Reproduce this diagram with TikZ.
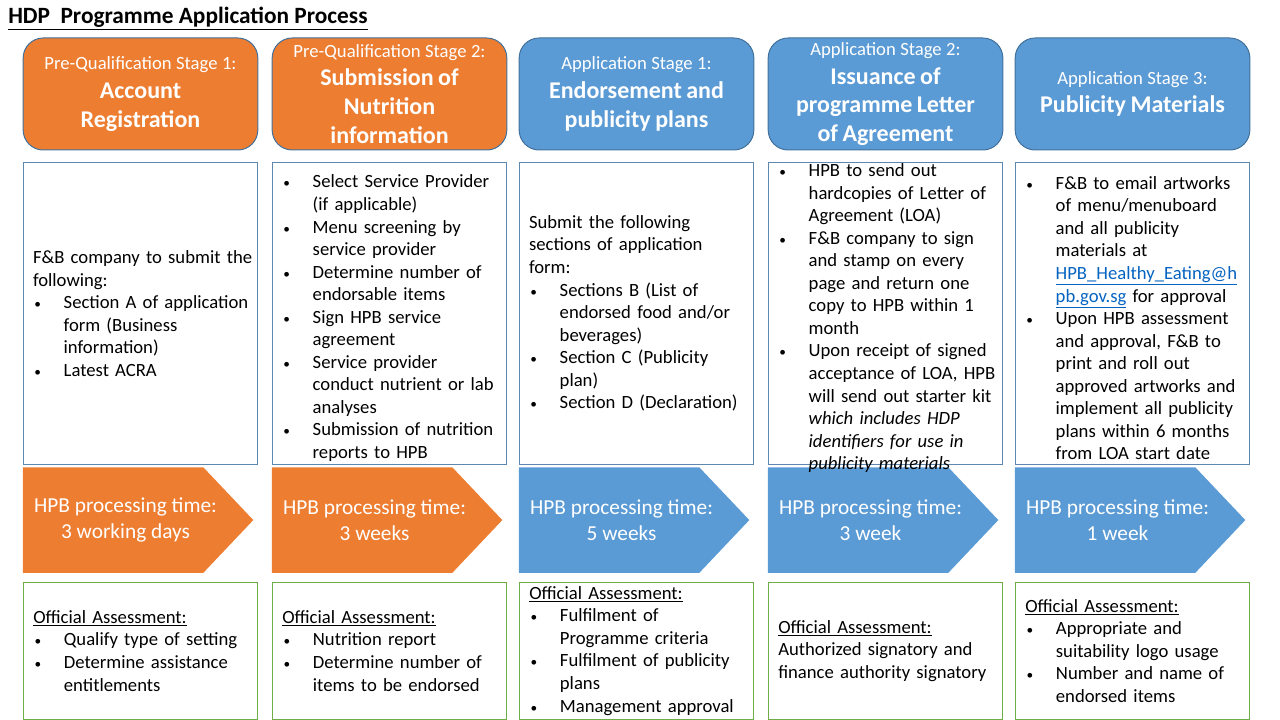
\documentclass[tikz,border=0pt]{standalone}
\usepackage{fontspec}
\setmainfont{Carlito}
\usepackage{enumitem}
\setlist[itemize]{label={\fontsize{10}{10}\selectfont\textbullet}, nosep, leftmargin=23pt, labelwidth=8pt, labelsep=14pt, align=left}
\usepackage{tikz}
\usetikzlibrary{positioning, backgrounds}

\definecolor{hpborange}{HTML}{ED7D31}
\definecolor{hpbblue}{HTML}{5B9BD5}
\definecolor{headline}{HTML}{41719C}
\definecolor{infoline}{HTML}{5E87B0}
\definecolor{hpbgreen}{HTML}{70AD47}
\definecolor{linkblue}{HTML}{0563C1}

\tikzset{
  head/.style={rectangle, rounded corners=15pt, draw=headline, line width=0.75pt,
    minimum width=176pt, minimum height=84pt, text width=170pt, align=center,
    text=white, inner sep=0pt},
  orangehead/.style={head, fill=hpborange},
  bluehead/.style={head, fill=hpbblue},
  infobox/.style={rectangle, draw=infoline, line width=0.6pt,
    minimum width=176pt, minimum height=225.75pt, inner sep=0pt},
  infotext/.style={anchor=west, text width=175pt, align=left, inner sep=0pt,
    font=\fontsize{14}{16.9}\selectfont},
  proc/.style={rectangle, minimum width=153.75pt, minimum height=78.75pt,
    inner sep=0pt, text=white, align=center, font=\fontsize{16}{19.5}\selectfont},
  assess/.style={rectangle, draw=hpbgreen, line width=0.75pt, minimum width=176pt,
    minimum height=102.75pt, inner xsep=7.5pt, inner ysep=0.5pt, text width=161pt,
    align=left, font=\fontsize{14}{16.9}\selectfont}
}

\newcommand{\stagesmall}[1]{{\fontsize{14}{17}\selectfont #1\par}}
\newcommand{\stagebig}[1]{{\fontsize{18}{21.6}\selectfont\bfseries #1\par}}

\begin{document}
\begin{tikzpicture}[x=0.75pt, y=-0.75pt]
  \useasboundingbox (0,0) rectangle (1280,720);

  % --- Title ---
  \node[anchor=north west, inner sep=0pt, font=\fontsize{17.5}{21}\selectfont\bfseries]
    (title) at (8,7) {\underline{HDP\hspace{0.45em}Programme Application Process}};

  % --- Stage headers ---
  \node[orangehead] (head1) at (140.5,94)
    {\stagesmall{Pre-Qualification Stage 1:}\stagebig{Account\\Registration}};
  \node[orangehead] (head2) at (389.5,94)
    {\stagesmall{Pre-Qualification Stage 2:}\stagebig{Submission of\\Nutrition\\information}};
  \node[bluehead] (head3) at (636.5,94)
    {\stagesmall{Application Stage 1:}\stagebig{Endorsement and\\publicity plans}};
  \node[bluehead] (head4) at (885.5,94)
    {\stagesmall{Application Stage 2:}\stagebig{Issuance of\\programme Letter\\of Agreement}};
  \node[bluehead] (head5) at (1132.5,94)
    {\stagesmall{Application Stage 3:}\stagebig{Publicity Materials}};

  % --- What the F&B company does (boxes + text) ---
  \node[infobox, below=9pt of head1] (info1) {};
  \node[infobox, below=9pt of head2] (info2) {};
  \node[infobox, below=9pt of head3] (info3) {};
  \node[infobox, below=9pt of head4] (info4) {};
  \node[infobox, below=9pt of head5] (info5) {};

  \node[infotext] (txt1) at ([xshift=7.5pt]info1.west) {F\&B company to submit the\\following:
    \begin{itemize}
      \item Section A of application\\form (Business\\information)
      \item Latest ACRA
    \end{itemize}};
  \node[infotext] (txt2) at ([xshift=7.5pt]info2.west) {%
    \begin{itemize}
      \item Select Service Provider\\(if applicable)
      \item Menu screening by\\service provider
      \item Determine number of\\endorsable items
      \item Sign HPB service\\agreement
      \item Service provider\\conduct nutrient or lab\\analyses
      \item Submission of nutrition\\reports to HPB
    \end{itemize}};
  \node[infotext] (txt3) at ([xshift=7.5pt]info3.west) {Submit the following\\sections of application\\form:
    \begin{itemize}
      \item Sections B (List of\\endorsed food and/or\\beverages)
      \item Section C (Publicity\\plan)
      \item Section D (Declaration)
    \end{itemize}};
  % this one runs over its box, as in the original
  \node[infotext] (txt4) at ([xshift=7.5pt]info4.west) {%
    \begin{itemize}
      \item HPB to send out\\hardcopies of Letter of\\Agreement (LOA)
      \item F\&B company to sign\\and stamp on every\\page and return one\\copy to HPB within 1\\month
      \item Upon receipt of signed\\acceptance of LOA, HPB\\will send out starter kit\\{\itshape which includes HDP\\identifiers for use in\\publicity materials}
    \end{itemize}};
  \node[infotext] (txt5) at ([xshift=7.5pt]info5.west) {%
    \begin{itemize}
      \item F\&B to email artworks\\of menu/menuboard\\and all publicity\\materials at\\{\color{linkblue}\underline{HPB\_Healthy\_Eating@h}}\\{\color{linkblue}\underline{pb.gov.sg}} for approval
      \item Upon HPB assessment\\and approval, F\&B to\\print and roll out\\approved artworks and\\implement all publicity\\plans within 6 months\\from LOA start date
    \end{itemize}};

  % --- Processing time arrows ---
  \node[proc, below=2.25pt of info1.south west, anchor=north west] (proc1) {HPB processing time:\\3 working days};
  \node[proc, below=2.25pt of info2.south west, anchor=north west] (proc2) {HPB processing time:\\3 weeks};
  \node[proc, below=2.25pt of info3.south west, anchor=north west] (proc3) {HPB processing time:\\5 weeks};
  \node[proc, below=2.25pt of info4.south west, anchor=north west] (proc4) {HPB processing time:\\3 week};
  \node[proc, below=2.25pt of info5.south west, anchor=north west] (proc5) {HPB processing time:\\1 week};

  \begin{scope}[on background layer]
    % arrow body ends 25px before the node's east side, tip 25px after it
    \fill[hpborange] (proc1.north west) -- ([xshift=-18.75pt]proc1.north east) -- ([xshift=18.75pt]proc1.east)
      -- ([xshift=-18.75pt]proc1.south east) -- (proc1.south west) -- cycle;
    \fill[hpborange] (proc2.north west) -- ([xshift=-18.75pt]proc2.north east) -- ([xshift=18.75pt]proc2.east)
      -- ([xshift=-18.75pt]proc2.south east) -- (proc2.south west) -- cycle;
    \fill[hpbblue] (proc3.north west) -- ([xshift=-18.75pt]proc3.north east) -- ([xshift=18.75pt]proc3.east)
      -- ([xshift=-18.75pt]proc3.south east) -- (proc3.south west) -- cycle;
    \fill[hpbblue] (proc4.north west) -- ([xshift=-18.75pt]proc4.north east) -- ([xshift=18.75pt]proc4.east)
      -- ([xshift=-18.75pt]proc4.south east) -- (proc4.south west) -- cycle;
    \fill[hpbblue] (proc5.north west) -- ([xshift=-18.75pt]proc5.north east) -- ([xshift=18.75pt]proc5.east)
      -- ([xshift=-18.75pt]proc5.south east) -- (proc5.south west) -- cycle;
  \end{scope}

  % --- Official assessment boxes ---
  \node[assess, below=6.75pt of proc1.south west, anchor=north west] (check1) {\underline{Official Assessment:}
    \begin{itemize}
      \item Qualify type of setting
      \item Determine assistance\\entitlements
    \end{itemize}};
  \node[assess, below=6.75pt of proc2.south west, anchor=north west] (check2) {\underline{Official Assessment:}
    \begin{itemize}
      \item Nutrition report
      \item Determine number of\\items to be endorsed
    \end{itemize}};
  \node[assess, below=6.75pt of proc3.south west, anchor=north west] (check3) {\underline{Official Assessment:}
    \begin{itemize}
      \item Fulfilment of\\Programme criteria
      \item Fulfilment of publicity\\plans
      \item Management approval
    \end{itemize}};
  \node[assess, below=6.75pt of proc4.south west, anchor=north west] (check4)
    {\underline{Official Assessment:}\\Authorized signatory and\\finance authority signatory};
  \node[assess, below=6.75pt of proc5.south west, anchor=north west] (check5) {\underline{Official Assessment:}
    \begin{itemize}
      \item Appropriate and\\suitability logo usage
      \item Number and name of\\endorsed items
    \end{itemize}};

\end{tikzpicture}
\end{document}
